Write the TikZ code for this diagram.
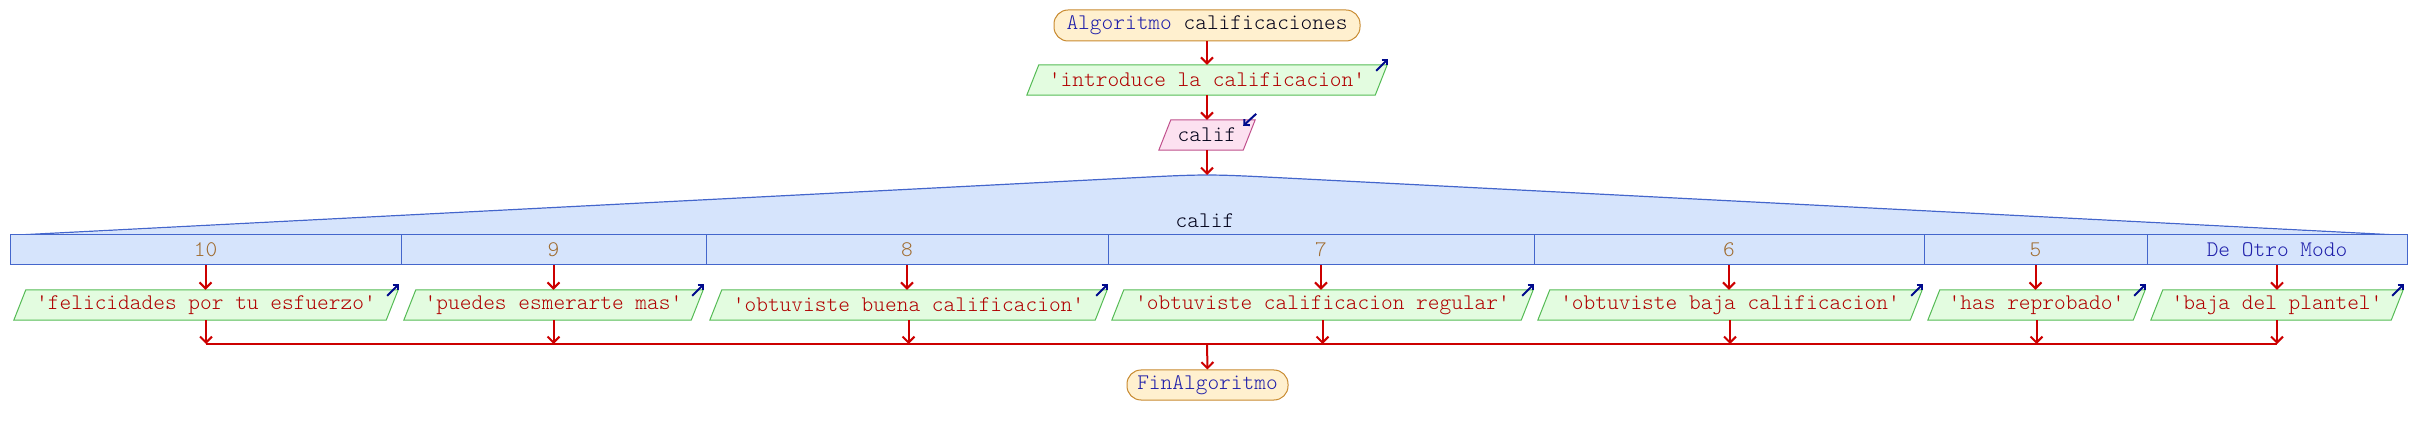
\documentclass[tikz,border=0pt]{standalone}
\usepackage{fontspec}
\newfontfamily\courlt{Latin Modern Mono Light}
\usetikzlibrary{arrows.meta,backgrounds,calc}
\definecolor{termfill}{HTML}{FFF0CF}
\definecolor{termborder}{HTML}{C88A30}
\definecolor{hdrfill}{HTML}{D6E4FC}
\definecolor{hdrborder}{HTML}{4466CC}
\definecolor{outfill}{HTML}{E3FCE0}
\definecolor{outborder}{HTML}{55BB55}
\definecolor{infill}{HTML}{FCE1F0}
\definecolor{inborder}{HTML}{C0508C}
\definecolor{flowred}{HTML}{CC0000}
\definecolor{outtext}{HTML}{B00000}
\definecolor{arrblue}{HTML}{000A8C}
\definecolor{valcol}{HTML}{A06C30}
\definecolor{kwblue}{HTML}{1E1EAA}
\definecolor{dark}{HTML}{000018}
\tikzset{
  base/.style={font=\courlt\fontsize{22.3}{24}\selectfont, inner sep=0pt, text=dark},
  term/.style={base, draw=termborder, fill=termfill, rounded corners=14pt, minimum height=31pt, line width=1pt},
  cell/.style={base, draw=hdrborder, fill=hdrfill, minimum height=30pt, line width=1pt, text=valcol},
  ptxt/.style={base, minimum height=30pt, text=outtext},
  flow/.style={draw=flowred, line width=2pt, -{Straight Barb[length=6pt,width=12pt]}},
  flowline/.style={draw=flowred, line width=2pt},
  bluearr/.style={draw=arrblue, line width=2pt, -{Straight Barb[length=4pt,width=8pt]}},
  outshape/.style={fill=outfill, draw=outborder, line width=1pt},
  inshape/.style={fill=infill, draw=inborder, line width=1pt},
}
\begin{document}
\begin{tikzpicture}[x=1pt,y=-1pt]
\useasboundingbox (0,0) rectangle (2414,435);
% selection arc
\fill[hdrfill] (18,236) -- (1127,178.1) .. controls (1207,174) .. (1287,178.1) -- (2397,236) -- cycle;
\draw[hdrborder, line width=1.2pt] (18,235) -- (1127,178.1) .. controls (1207,174) .. (1287,178.1) -- (2397,235);
\coordinate (peak) at (1207,175);
\node[base] (sel) at (1205,221) {calif};
% start / end
\node[term, minimum width=306pt] (start) at (1207,25.5) {\textcolor{kwblue}{Algoritmo} calificaciones};
\node[term, minimum width=161pt, minimum height=30pt, text=kwblue] (end) at (1207.5,385) {FinAlgoritmo};
% output / input
\node[ptxt, minimum width=348pt] (out0) at (1207,80) {'introduce la calificacion'};
\node[base, minimum width=84pt, minimum height=30pt] (in0) at (1207,135) {calif};
% case cells
\node[cell, minimum width=391pt] (c1) at (205.5,250) {10};
\node[cell, minimum width=305pt] (c2) at (553.5,250) {9};
\node[cell, minimum width=402pt] (c3) at (907,250) {8};
\node[cell, minimum width=426pt] (c4) at (1321,250) {7};
\node[cell, minimum width=390pt] (c5) at (1729,250) {6};
\node[cell, minimum width=223pt] (c6) at (2035.5,250) {5};
\node[cell, minimum width=260pt, text=kwblue] (c7) at (2277,250) {De Otro Modo};
% output boxes
\node[ptxt, minimum width=372pt] (b1) at (206,305) {'felicidades por tu esfuerzo'};
\node[ptxt, minimum width=287pt] (b2) at (553.5,305) {'puedes esmerarte mas'};
\node[ptxt, minimum width=385pt] (b3) at (908.5,305) {'obtuviste buena calificacion'};
\node[ptxt, minimum width=409pt] (b4) at (1322.5,305) {'obtuviste calificacion regular'};
\node[ptxt, minimum width=372pt] (b5) at (1730,305) {'obtuviste baja calificacion'};
\node[ptxt, minimum width=205pt] (b6) at (2036.5,305) {'has reprobado'};
\node[ptxt, minimum width=240pt] (b7) at (2277,305) {'baja del plantel'};
\begin{scope}[on background layer]
\foreach \n in {out0,b1,b2,b3,b4,b5,b6,b7}{
  \path[outshape] ($(\n.south west)+(-6,0)$) -- ($(\n.south east)+(-6,0)$) -- ($(\n.north east)+(6,0)$) -- ($(\n.north west)+(6,0)$) -- cycle;
}
\path[inshape] ($(in0.south west)+(-6,0)$) -- ($(in0.south east)+(-6,0)$) -- ($(in0.north east)+(6,0)$) -- ($(in0.north west)+(6,0)$) -- cycle;
\end{scope}
% blue arrows
\foreach \n in {out0,b1,b2,b3,b4,b5,b6,b7}{
  \draw[bluearr] ($(\n.north east)+(-5,6)$) -- ($(\n.north east)+(7,-6)$);
}
\draw[bluearr] ($(in0.north east)+(7,-6)$) -- ($(in0.north east)+(-6,6)$);
% flow
\draw[flow] (start.south) -- (out0.north);
\draw[flow] (out0.south) -- (in0.north);
\draw[flow] (in0.south) -- (peak);
\coordinate (jn) at (1207,344);
\foreach \i in {1,...,7}{
  \draw[flow] (c\i.south) -- (c\i.south |- b\i.north);
  \draw[flow] (b\i.south) -- (b\i.south |- jn);
}
\draw[flowline] (b1.south |- jn) -- (b7.south |- jn);
\draw[flow] (jn) -- (end.north);
\end{tikzpicture}
\end{document}
